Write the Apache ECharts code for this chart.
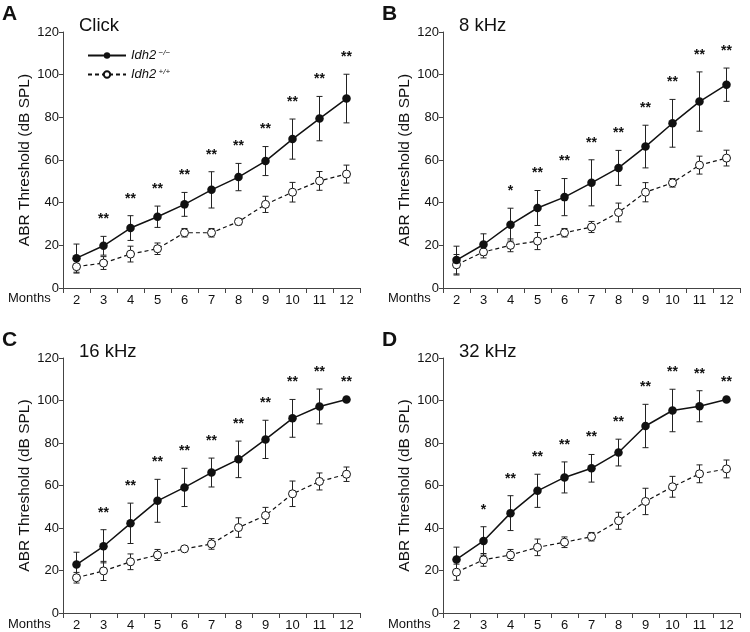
<!DOCTYPE html>
<html><head><meta charset="utf-8">
<script src="https://cdn.jsdelivr.net/npm/echarts@6/dist/echarts.min.js"></script>
<style>html,body{margin:0;padding:0;background:#fff}#c{width:750px;height:632px}</style>
</head><body><div id="c"></div>
<script>
const months = ['2','3','4','5','6','7','8','9','10','11','12'];
const yTicks = [0, 20, 40, 60, 80, 100, 120];

// Panel A: Click
const clickKO   = [14.0, 19.8, 28.1, 33.4, 39.2, 46.0, 52.0, 59.5, 69.8, 79.4, 88.8];
const clickKOsd = [6.6, 4.4, 5.8, 5.0, 5.6, 8.5, 6.4, 6.8, 9.4, 10.4, 11.4];
const clickWT   = [10.0, 11.7, 15.9, 18.4, 25.9, 25.9, 31.1, 39.2, 44.9, 50.2, 53.4];
const clickWTsd = [3.0, 3.0, 3.7, 2.7, 2.0, 2.0, 1.5, 3.8, 4.6, 4.4, 4.2];
const clickSig  = ['', '**', '**', '**', '**', '**', '**', '**', '**', '**', '**'];

// Panel B: 8 kHz
const k8KO   = [13.1, 20.4, 29.7, 37.5, 42.6, 49.3, 56.3, 66.3, 77.2, 87.4, 95.3];
const k8KOsd = [6.5, 5.0, 7.7, 8.2, 8.7, 10.8, 8.2, 10.0, 11.2, 13.9, 7.8];
const k8WT   = [10.9, 16.9, 20.0, 22.0, 25.9, 28.6, 35.4, 44.9, 49.3, 57.6, 60.9];
const k8WTsd = [4.8, 2.8, 3.0, 4.0, 2.0, 2.6, 4.4, 4.5, 2.0, 4.2, 3.7];
const k8Sig  = ['', '', '*', '**', '**', '**', '**', '**', '**', '**', '**'];

// Panel C: 16 kHz
const k16KO   = [22.8, 31.4, 42.2, 52.8, 59.1, 66.1, 72.3, 81.7, 91.6, 97.2, 100.5];
const k16KOsd = [5.8, 7.8, 9.5, 10.1, 9.0, 6.8, 8.6, 9.0, 8.9, 8.2, 0];
const k16WT   = [16.6, 19.8, 24.1, 27.3, 30.2, 32.5, 40.2, 45.9, 56.1, 61.9, 65.3];
const k16WTsd = [2.5, 4.5, 3.7, 2.6, 0.5, 2.5, 4.6, 3.8, 6.0, 4.0, 3.4];
const k16Sig  = ['', '**', '**', '**', '**', '**', '**', '**', '**', '**', '**'];

// Panel D: 32 kHz
const k32KO   = [25.2, 33.9, 47.0, 57.5, 63.8, 68.1, 75.5, 88.0, 95.3, 97.3, 100.5];
const k32KOsd = [5.8, 6.7, 8.2, 7.8, 7.3, 6.5, 6.3, 10.2, 10.0, 7.3, 0];
const k32WT   = [19.2, 25.0, 27.3, 30.9, 33.3, 35.9, 43.4, 52.5, 59.4, 65.5, 67.8];
const k32WTsd = [3.8, 3.0, 2.6, 3.9, 2.5, 2.0, 4.0, 6.2, 4.9, 4.2, 4.2];
const k32Sig  = ['', '*', '**', '**', '**', '**', '**', '**', '**', '**', '**'];

const panelTitles = ['Click', '8 kHz', '16 kHz', '32 kHz'];
const panelLetters = ['A', 'B', 'C', 'D'];

const panels = [
  {ko: clickKO, kosd: clickKOsd, wt: clickWT, wtsd: clickWTsd, sig: clickSig},
  {ko: k8KO, kosd: k8KOsd, wt: k8WT, wtsd: k8WTsd, sig: k8Sig},
  {ko: k16KO, kosd: k16KOsd, wt: k16WT, wtsd: k16WTsd, sig: k16Sig},
  {ko: k32KO, kosd: k32KOsd, wt: k32WT, wtsd: k32WTsd, sig: k32Sig}
];

const FONT = '"Liberation Sans", Arial, sans-serif';
const grids = [
  {left: 63, top: 32, width: 297, height: 256},
  {left: 443, top: 32, width: 297, height: 256},
  {left: 63, top: 358, width: 297, height: 256},
  {left: 443, top: 358, width: 297, height: 256}
];

const xAxes = [], yAxes = [], series = [], graphics = [];
grids.forEach((g, i) => {
  xAxes.push({
    type: 'category', gridIndex: i, data: months, boundaryGap: true,
    axisLine: {lineStyle: {color: '#444', width: 1}},
    axisTick: {show: true, length: 5, lineStyle: {color: '#444'}},
    axisLabel: {color: '#111', fontSize: 13, fontFamily: FONT, margin: 6}
  });
  yAxes.push({
    type: 'value', gridIndex: i, min: yTicks[0], max: yTicks[yTicks.length - 1], interval: 20,
    name: 'ABR Threshold (dB SPL)', nameLocation: 'middle', nameGap: 30,
    nameTextStyle: {color: '#111', fontSize: 15.5, fontFamily: FONT},
    axisLine: {show: true, lineStyle: {color: '#444', width: 1}},
    axisTick: {show: true, length: 4, lineStyle: {color: '#444'}},
    axisLabel: {color: '#111', fontSize: 13, fontFamily: FONT, margin: 4},
    splitLine: {show: false}
  });
  const p = panels[i];
  const errData = (m, s) => m.map((v, k) => [k, v, s[k]]);
  const errRender = function (params, api) {
    const x = api.value(0), m = api.value(1), s = api.value(2);
    const top = api.coord([x, m + s]);
    const bot = api.coord([x, m - s]);
    const w = 3;
    const st = {stroke: '#222', lineWidth: 1};
    return {type: 'group', children: [
      {type: 'line', shape: {x1: top[0], y1: top[1], x2: bot[0], y2: bot[1]}, style: st},
      {type: 'line', shape: {x1: top[0] - w, y1: top[1], x2: top[0] + w, y2: top[1]}, style: st},
      {type: 'line', shape: {x1: bot[0] - w, y1: bot[1], x2: bot[0] + w, y2: bot[1]}, style: st}
    ]};
  };
  series.push({
    type: 'custom', xAxisIndex: i, yAxisIndex: i, renderItem: errRender,
    data: errData(p.wt, p.wtsd), z: 1, silent: true
  });
  series.push({
    type: 'custom', xAxisIndex: i, yAxisIndex: i, renderItem: errRender,
    data: errData(p.ko, p.kosd), z: 1, silent: true
  });
  series.push({
    name: 'WT', type: 'line', xAxisIndex: i, yAxisIndex: i, data: p.wt, z: 3,
    symbol: 'circle', symbolSize: 8,
    lineStyle: {color: '#111', width: 1.2, type: [4, 3]},
    itemStyle: {color: '#fff', borderColor: '#111', borderWidth: 1}
  });
  series.push({
    name: 'KO', type: 'line', xAxisIndex: i, yAxisIndex: i, data: p.ko, z: 4,
    symbol: 'circle', symbolSize: 8.5,
    lineStyle: {color: '#111', width: 1.5},
    itemStyle: {color: '#111', borderColor: '#111', borderWidth: 0}
  });
  series.push({
    type: 'custom', xAxisIndex: i, yAxisIndex: i, z: 5, silent: true,
    data: p.ko.map((v, k) => [k, v, p.kosd[k]]),
    renderItem: function (params, api) {
      const k = api.value(0);
      const txt = p.sig[k];
      if (!txt) return null;
      const pt = api.coord([k, api.value(1) + api.value(2)]);
      return {type: 'text', x: pt[0], y: pt[1] - 17,
        style: {text: txt, fontSize: 14, fontWeight: 'bold', fontFamily: FONT, fill: '#111',
          textAlign: 'center', textVerticalAlign: 'middle'}};
    }
  });
  graphics.push({type: 'text', left: g.left + 16, top: g.top - 16,
    style: {text: panelTitles[i], fontSize: 18.5, fontFamily: FONT, fill: '#111'}});
  graphics.push({type: 'text', left: g.left - 61, top: g.top - 28,
    style: {text: panelLetters[i], fontSize: 21, fontWeight: 'bold', fontFamily: FONT, fill: '#111'}});
  graphics.push({type: 'text', left: g.left - 55, top: g.top + g.height + 4,
    style: {text: 'Months', fontSize: 13, fontFamily: FONT, fill: '#111'}});
});

const chart = echarts.init(document.getElementById('c'), null, {renderer: 'canvas'});
chart.setOption({
  animation: false,
  grid: grids,
  xAxis: xAxes,
  yAxis: yAxes,
  series: series,
  graphic: graphics,
  legend: {
    data: ['KO', 'WT'], orient: 'vertical', left: 82, top: 44,
    itemWidth: 38, itemHeight: 8, itemGap: 6, selectedMode: false,
    formatter: function (n) { return n === 'KO' ? '{i|Idh2}{s| −/−}' : '{i|Idh2}{s| +/+}'; },
    textStyle: {color: '#111', fontFamily: FONT,
      rich: {i: {fontStyle: 'italic', fontSize: 13, fontFamily: FONT, color: '#111'},
             s: {fontStyle: 'italic', fontSize: 8, fontFamily: FONT, color: '#111', verticalAlign: 'top'}}}
  }
});
</script></body></html>
